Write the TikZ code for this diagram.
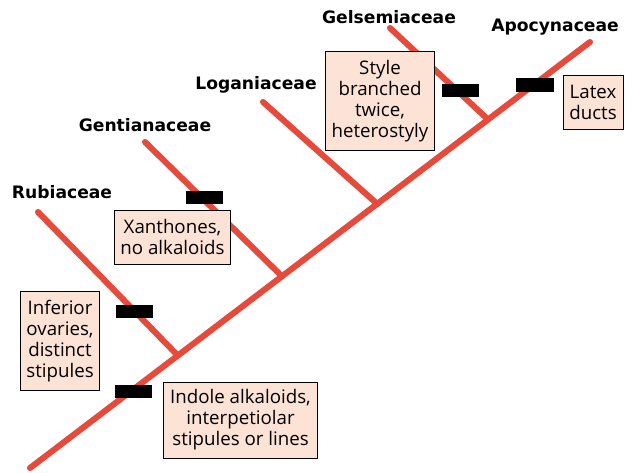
\documentclass[tikz,border=0pt]{standalone}
\usepackage{fontspec}
\setmainfont{Open Sans}
\newfontfamily\famfont{DejaVu Sans}
\usetikzlibrary{calc}
\definecolor{treered}{HTML}{E64A3B}
\definecolor{boxfill}{HTML}{FCE3D5}
\tikzset{
  branch/.style={treered,line width=4.3pt,line cap=round},
  famlabel/.style={font=\famfont\fontsize{12.2}{14}\selectfont\bfseries,
    inner sep=0pt},
  traitbox/.style={draw=black,fill=boxfill,line width=0.7pt,align=center,
    inner sep=2pt,font=\fontsize{13.3}{15}\selectfont},
  synbar/.style={fill=black,minimum width=0.93cm,minimum height=0.33cm,
    inner sep=0pt},
}

\begin{document}
\begin{tikzpicture}[x=0.025cm,y=-0.025cm]
\useasboundingbox (0,0) rectangle (632,473);
% trunk, root to Apocynaceae
\coordinate (root) at (30,468);
\coordinate (apo) at (590,42);
\coordinate (jrub) at ($(root)!0.264!(apo)$);
\coordinate (jgen) at ($(root)!0.450!(apo)$);
\coordinate (jlog) at ($(root)!0.620!(apo)$);
\coordinate (jgel) at ($(root)!0.818!(apo)$);
% branch tips
\coordinate (rub) at (38,212);
\coordinate (gen) at (145,142);
\coordinate (log) at (263,102);
\coordinate (gel) at (390,28);
\draw[branch] (root) -- (apo);
\foreach \tip/\j in {rub/jrub,gen/jgen,log/jlog,gel/jgel}{
  \draw[branch] (\tip) -- (\j);
}
% family names
\node[famlabel] (lrub) at (62,192) {Rubiaceae};
\node[famlabel] (lgen) at (145,125) {Gentianaceae};
\node[famlabel] (llog) at (256,85) {Loganiaceae};
\node[famlabel] (lgel) at (389,17) {Gelsemiaceae};
\node[famlabel] (lapo) at (555,27) {Apocynaceae};
% synapomorphy bars
\node[synbar] (bind) at (133.5,391.5) {};
\node[synbar] (brub) at (134.5,311.5) {};
\node[synbar] (bgen) at (204.5,197.5) {};
\node[synbar] (bgel) at (460.5,90.5) {};
\node[synbar] (bapo) at (535,85) {};
% character boxes
\node[traitbox,minimum width=3.83cm,minimum height=1.9cm] (tind)
  at (240.5,420) {Indole alkaloids,\\interpetiolar\\stipules or lines};
\node[traitbox,minimum width=1.95cm,minimum height=2.45cm] (trub)
  at (60,341) {Inferior\\ovaries,\\distinct\\stipules};
\node[traitbox,minimum width=2.88cm,minimum height=1.35cm] (tgen)
  at (172.5,237) {Xanthones,\\no alkaloids};
\node[traitbox,minimum width=2.7cm,minimum height=2.45cm] (tgel)
  at (380,101) {Style\\branched\\twice,\\heterostyly};
\node[traitbox,minimum width=1.5cm,minimum height=1.35cm] (tapo)
  at (593,102) {Latex\\ducts};
\end{tikzpicture}
\end{document}
